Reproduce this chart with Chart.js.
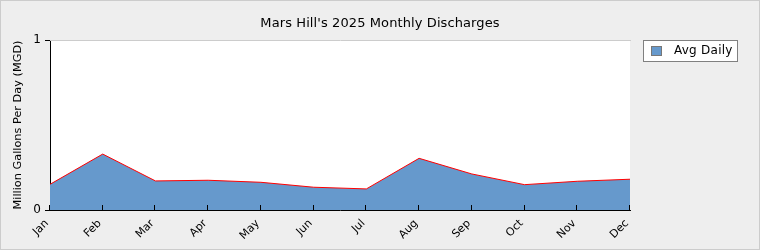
<!DOCTYPE html>
<html>
<head>
<meta charset="utf-8">
<script src="https://cdn.jsdelivr.net/npm/chart.js@4.4.0/dist/chart.umd.min.js"></script>
<style>
body{margin:0;background:#eee}
#wrap{width:760px;height:250px}
</style>
</head>
<body>
<div id="wrap"><canvas id="chart"></canvas></div>
<script>
const months = ['Jan','Feb','Mar','Apr','May','Jun','Jul','Aug','Sep','Oct','Nov','Dec']
const avgDaily = [0.151, 0.329, 0.171, 0.175, 0.163, 0.134, 0.124, 0.304, 0.212, 0.149, 0.169, 0.181]
const yTicks = [0, 1]
const chartTitle = "Mars Hill's 2025 Monthly Discharges"

// background, frame, title, top line of plot, inner x ticks, boxed legend
const decor = {
    id: 'decor',
    beforeDraw(chart){
        const ctx = chart.ctx
        ctx.save()
        ctx.fillStyle = '#eeeeee'
        ctx.fillRect(0, 0, chart.width, chart.height)
        ctx.strokeStyle = '#cccccc'
        ctx.lineWidth = 1
        ctx.strokeRect(0.5, 0.5, chart.width - 1, chart.height - 1)
        const a = chart.chartArea
        ctx.fillStyle = '#ffffff'
        ctx.fillRect(a.left, a.top, a.right - a.left, a.bottom - a.top)

        ctx.fillStyle = '#000'
        ctx.font = '13px "DejaVu Sans"'
        ctx.letterSpacing = '0.1px'
        ctx.textAlign = 'center'
        ctx.textBaseline = 'middle'
        ctx.fillText(chartTitle, chart.width / 2, 24)
        ctx.restore()
    },
    afterDraw(chart){
        const ctx = chart.ctx
        const a = chart.chartArea
        const x = chart.scales.x
        ctx.save()
        ctx.strokeStyle = '#cccccc'
        ctx.lineWidth = 1
        ctx.beginPath()
        ctx.moveTo(a.left, a.top + 0.5)
        ctx.lineTo(a.right + 1, a.top + 0.5)
        ctx.stroke()
        ctx.strokeStyle = '#000'
        ctx.beginPath()
        x.ticks.forEach((t, i) => {
            const px = Math.round(x.getPixelForTick(i)) - 0.5
            ctx.moveTo(px, a.bottom)
            ctx.lineTo(px, a.bottom - 5)
        })
        ctx.stroke()

        // legend
        const ds = chart.data.datasets[0]
        const lx = a.right + 13, ly = a.top
        ctx.fillStyle = '#ffffff'
        ctx.fillRect(lx, ly, 94, 21)
        ctx.strokeStyle = '#808080'
        ctx.strokeRect(lx + 0.5, ly + 0.5, 94, 21)
        ctx.fillStyle = ds.backgroundColor
        ctx.fillRect(lx + 8, ly + 6, 11, 10)
        ctx.strokeStyle = '#777777'
        ctx.strokeRect(lx + 8.5, ly + 6.5, 10, 9)
        ctx.fillStyle = '#000'
        ctx.font = '12px "DejaVu Sans"'
        ctx.letterSpacing = '0.25px'
        ctx.textBaseline = 'middle'
        ctx.fillText(ds.label, lx + 31, ly + 11)
        ctx.restore()
    }
}

new Chart(document.getElementById('chart'), {
    type: 'line',
    data: {
        labels: months,
        datasets: [{
            label: 'Avg Daily',
            data: avgDaily,
            fill: 'origin',
            backgroundColor: '#6699cc',
            borderColor: '#ff0000',
            borderWidth: 1,
            pointRadius: 0,
            tension: 0
        }]
    },
    options: {
        responsive: true,
        maintainAspectRatio: false,
        animation: false,
        layout: { padding: { top: 40, right: 130, left: 0, bottom: 0 } },
        plugins: {
            legend: { display: false },
            tooltip: { enabled: false },
            title: { display: false }
        },
        scales: {
            x: {
                offset: false,
                grid: { display: true, drawOnChartArea: false, drawTicks: false },
                border: { display: true, color: '#000', width: 1 },
                ticks: {
                    autoSkip: false,
                    minRotation: 45,
                    maxRotation: 45,
                    padding: 7,
                    labelOffset: -3,
                    color: '#000',
                    font: { family: '"DejaVu Sans"', size: 11 }
                },
                afterFit(scale){ scale.height = 40 }
            },
            y: {
                min: yTicks[0],
                max: yTicks[yTicks.length - 1],
                afterBuildTicks(scale){ scale.ticks = yTicks.map(v => ({ value: v })) },
                grid: { display: true, drawOnChartArea: false, tickLength: 5, color: '#000' },
                border: { display: true, color: '#000', width: 1 },
                ticks: {
                    padding: 4,
                    color: '#000',
                    font: { family: '"DejaVu Sans"', size: 12 }
                },
                title: {
                    display: true,
                    text: 'Million Gallons Per Day (MGD)',
                    color: '#000',
                    font: { family: '"DejaVu Sans"', size: 11.3 },
                    padding: { top: 11, bottom: 0 }
                },
                afterFit(scale){ scale.width = 50 }
            }
        }
    },
    plugins: [decor]
})
</script>
</body>
</html>
